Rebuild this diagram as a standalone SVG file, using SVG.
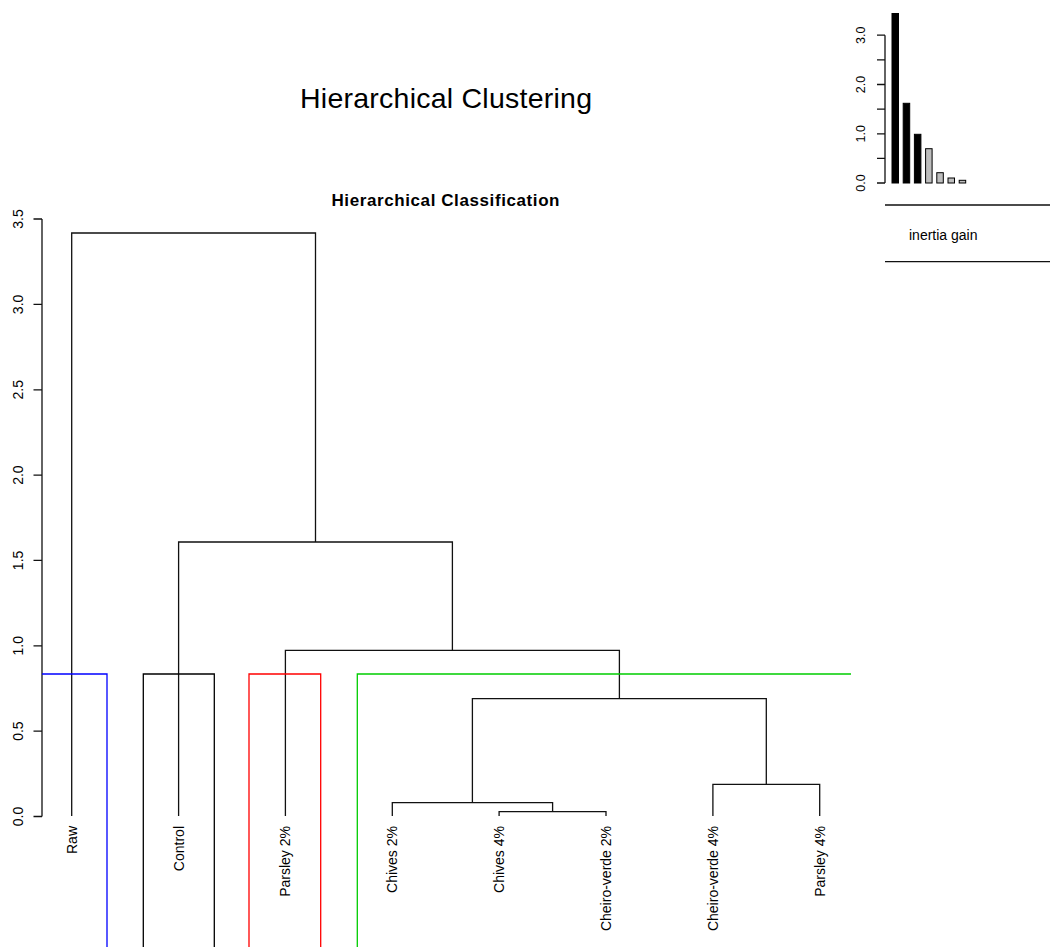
<svg xmlns="http://www.w3.org/2000/svg" width="1050" height="947" viewBox="0 0 1050 947">
<style>
text { font-family: "Liberation Sans", Arial, sans-serif; fill: #000; }
.ln { fill: none; stroke: #111; stroke-width: 1.3; }
.ax { fill: none; stroke: #111; stroke-width: 1.3; }
.lab { font-size: 14px; text-anchor: end; }
.tick { font-size: 14px; text-anchor: middle; }
.itick { font-size: 12.5px; text-anchor: middle; }
.barb { fill: #000; stroke: #000; stroke-width: 1; }
.barg { fill: #bebebe; stroke: #000; stroke-width: 1; }
</style>
<rect width="1050" height="947" fill="#fff"/>
<text x="446" y="107.5" font-size="28.5" text-anchor="middle" textLength="292">Hierarchical Clustering</text>
<text x="445.5" y="205.5" font-size="17" font-weight="bold" text-anchor="middle" textLength="228">Hierarchical Classification</text>

<g id="y-axis">
<path class="ax" d="M42,219 V816.5 M33.5,816.5 H42 M33.5,731.1 H42 M33.5,645.8 H42 M33.5,560.4 H42 M33.5,475.1 H42 M33.5,389.8 H42 M33.5,304.4 H42 M33.5,219 H42"/>
<text class="tick" transform="translate(23,816.5) rotate(-90)">0.0</text>
<text class="tick" transform="translate(23,731.1) rotate(-90)">0.5</text>
<text class="tick" transform="translate(23,645.8) rotate(-90)">1.0</text>
<text class="tick" transform="translate(23,560.4) rotate(-90)">1.5</text>
<text class="tick" transform="translate(23,475.1) rotate(-90)">2.0</text>
<text class="tick" transform="translate(23,389.8) rotate(-90)">2.5</text>
<text class="tick" transform="translate(23,304.4) rotate(-90)">3.0</text>
<text class="tick" transform="translate(23,219) rotate(-90)">3.5</text>
</g>

<g id="connectors">
<path class="ln" d="M499.1,816 V811.7 H606 V816"/>
<path class="ln" d="M392.3,816 V802.7 H552.6 V811.7"/>
<path class="ln" d="M712.9,816 V784.3 H819.7 V816"/>
<path class="ln" d="M472.4,802.7 V698.7 H766.3 V784.3"/>
<path class="ln" d="M285.4,816 V650.3 H619.4 V698.7"/>
<path class="ln" d="M178.6,816 V542 H452.4 V650.3"/>
<path class="ln" d="M71.7,816 V233 H315.5 V542"/>
</g>

<g id="cluster-rects">
<path fill="none" stroke="#0000ff" stroke-width="1.3" d="M42,674 H107 V947"/>
<path fill="none" stroke="#000" stroke-width="1.3" d="M143.3,947 V674 H214.3 V947"/>
<path fill="none" stroke="#ff0000" stroke-width="1.3" d="M249,947 V674 H320.7 V947"/>
<path fill="none" stroke="#00cd00" stroke-width="1.3" d="M357.3,947 V674 H851"/>
</g>

<g id="leaf-raw"><text class="lab" transform="translate(76.7,826) rotate(-90)">Raw</text></g>
<g id="leaf-control"><text class="lab" transform="translate(183.6,826) rotate(-90)">Control</text></g>
<g id="leaf-parsley2"><text class="lab" transform="translate(290.4,826) rotate(-90)">Parsley 2%</text></g>
<g id="leaf-chives2"><text class="lab" transform="translate(397.3,826) rotate(-90)">Chives 2%</text></g>
<g id="leaf-chives4"><text class="lab" transform="translate(504.1,826) rotate(-90)">Chives 4%</text></g>
<g id="leaf-cv2"><text class="lab" transform="translate(611,826) rotate(-90)">Cheiro-verde 2%</text></g>
<g id="leaf-cv4"><text class="lab" transform="translate(717.9,826) rotate(-90)">Cheiro-verde 4%</text></g>
<g id="leaf-parsley4"><text class="lab" transform="translate(824.7,826) rotate(-90)">Parsley 4%</text></g>

<g id="inertia-inset">
<path class="ax" d="M885,183 V35.2 M877,183 H885 M877,158.4 H885 M877,133.8 H885 M877,109.1 H885 M877,84.5 H885 M877,59.9 H885 M877,35.2 H885"/>
<text class="itick" transform="translate(864.5,183) rotate(-90)">0.0</text>
<text class="itick" transform="translate(864.5,133.8) rotate(-90)">1.0</text>
<text class="itick" transform="translate(864.5,84.5) rotate(-90)">2.0</text>
<text class="itick" transform="translate(864.5,35.2) rotate(-90)">3.0</text>
<rect class="barb" x="892" y="13.5" width="6.5" height="169.5"/>
<rect class="barb" x="903.2" y="103.3" width="6.5" height="79.7"/>
<rect class="barb" x="914.4" y="134.3" width="6.5" height="48.7"/>
<rect class="barg" x="925.6" y="148.7" width="6.5" height="34.3"/>
<rect class="barg" x="936.8" y="172.7" width="6.5" height="10.3"/>
<rect class="barg" x="948" y="178" width="6.5" height="5"/>
<rect class="barg" x="959.2" y="180.3" width="6.5" height="2.7"/>
<path class="ax" d="M885,205 H1050 M885,261.7 H1050"/>
<text x="909" y="240" font-size="14">inertia gain</text>
</g>
</svg>
